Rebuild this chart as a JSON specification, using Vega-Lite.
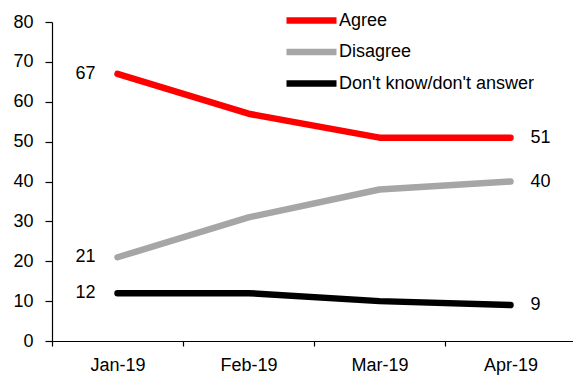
{
  "$schema": "https://vega.github.io/schema/vega-lite/v6.json",
  "autosize": {"type": "none"},
  "padding": {"left": 52, "top": 22, "right": 0, "bottom": 37},
  "width": 521,
  "height": 319,
  "background": "white",
  "config": {
    "view": {"stroke": null},
    "font": "Liberation Sans, Arial, sans-serif",
    "axis": {
      "labelFont": "Liberation Sans, Arial, sans-serif",
      "labelFontSize": 18,
      "labelColor": "#000000",
      "domainColor": "#000000",
      "domainWidth": 1.2,
      "tickColor": "#000000",
      "tickWidth": 1.2,
      "grid": false,
      "title": null
    },
    "legend": {
      "labelFont": "Liberation Sans, Arial, sans-serif",
      "labelFontSize": 18,
      "labelColor": "#000000"
    }
  },
  "data": {
    "values": [
      {"month": "Jan-19", "series": "Agree", "value": 67},
      {"month": "Feb-19", "series": "Agree", "value": 57},
      {"month": "Mar-19", "series": "Agree", "value": 51},
      {"month": "Apr-19", "series": "Agree", "value": 51},
      {"month": "Jan-19", "series": "Disagree", "value": 21},
      {"month": "Feb-19", "series": "Disagree", "value": 31},
      {"month": "Mar-19", "series": "Disagree", "value": 38},
      {"month": "Apr-19", "series": "Disagree", "value": 40},
      {"month": "Jan-19", "series": "Don't know/don't answer", "value": 12},
      {"month": "Feb-19", "series": "Don't know/don't answer", "value": 12},
      {"month": "Mar-19", "series": "Don't know/don't answer", "value": 10},
      {"month": "Apr-19", "series": "Don't know/don't answer", "value": 9}
    ]
  },
  "encoding": {
    "x": {
      "field": "month",
      "type": "ordinal",
      "sort": ["Jan-19", "Feb-19", "Mar-19", "Apr-19"],
      "scale": {"type": "band", "paddingInner": 0, "paddingOuter": 0, "range": [0, 524]},
      "axis": {"labelAngle": 0, "tickBand": "extent", "tickSize": 5, "labelPadding": 10}
    },
    "y": {
      "field": "value",
      "type": "quantitative",
      "scale": {"domain": [0, 80], "nice": false, "zero": true},
      "axis": {"values": [0, 10, 20, 30, 40, 50, 60, 70, 80], "tickSize": 7, "labelPadding": 12}
    }
  },
  "layer": [
    {
      "mark": {"type": "line", "strokeWidth": 6.5, "strokeCap": "round", "strokeJoin": "round"},
      "encoding": {
        "color": {
          "field": "series",
          "type": "nominal",
          "sort": ["Agree", "Disagree", "Don't know/don't answer"],
          "scale": {"domain": ["Agree", "Disagree", "Don't know/don't answer"], "range": ["#ff0000", "#a6a6a6", "#000000"]},
          "legend": {
            "title": null,
            "orient": "none",
            "legendX": 246,
            "legendY": -15,
            "symbolType": "M-2.5,0H2.5",
            "symbolSize": 400,
            "symbolStrokeWidth": 6.5,
            "labelOffset": 14,
            "labelLimit": 400,
            "rowPadding": 4.5
          }
        }
      }
    },
    {
      "transform": [{"filter": "datum.month === 'Jan-19'"}],
      "mark": {"type": "text", "align": "right", "baseline": "middle", "dx": -22, "fontSize": 18, "color": "#000000"},
      "encoding": {"text": {"field": "value", "type": "quantitative"}}
    },
    {
      "transform": [{"filter": "datum.month === 'Apr-19'"}],
      "mark": {"type": "text", "align": "left", "baseline": "middle", "dx": 20, "fontSize": 18, "color": "#000000"},
      "encoding": {"text": {"field": "value", "type": "quantitative"}}
    }
  ]
}
